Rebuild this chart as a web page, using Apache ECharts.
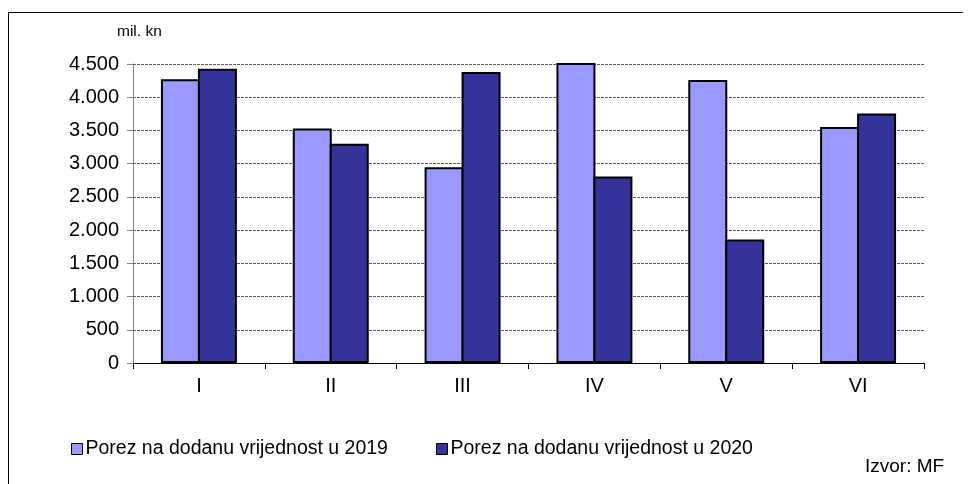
<!DOCTYPE html>
<html><head><meta charset="utf-8">
<script src="https://cdn.jsdelivr.net/npm/echarts@6/dist/echarts.min.js"></script>
<style>html,body{margin:0;padding:0;background:#fff}#c{width:968px;height:484px}</style>
</head><body><div id="c"></div>
<script>
var categories = ['I','II','III','IV','V','VI'];
var vat2019 = [4270, 3530, 2945, 4800, 4260, 3550];
var vat2020 = [4430, 3300, 4380, 2805, 1860, 3755];
var seriesNames = ['Porez na dodanu vrijednost u 2019','Porez na dodanu vrijednost u 2020'];
var yTickStep = 500, yMax = 4500;
var unitLabel = 'mil. kn';
var sourceLabel = 'Izvor: MF';

var FONT = 'Liberation Sans, Arial, sans-serif';
function fmt(v){ return String(v).replace(/\B(?=(\d{3})+(?!\d))/g,'.'); }
var chart = echarts.init(document.getElementById('c'), null, {renderer:'canvas'});
chart.setOption({
  animation:false,
  backgroundColor:'#fff',
  grid:{left:133,right:44,top:64,bottom:121,containLabel:false},
  legend:{
    left:66, top:434, itemWidth:11, itemHeight:11, itemGap:48,
    icon:'rect',
    textStyle:{fontFamily:FONT,fontSize:19.5,color:'#000',padding:[0,0,0,-2]},
    itemStyle:{borderColor:'#000',borderWidth:1},
    data:seriesNames
  },
  graphic:[
    {type:'polyline',shape:{points:[[8.5,490],[8.5,12.5],[963,12.5]]},style:{stroke:'#000',lineWidth:1,fill:null}},
    {type:'text',left:117,top:24,style:{text:unitLabel,font:'15.5px '+FONT,fill:'#000'}},
    {type:'text',left:865,top:457,style:{text:sourceLabel,font:'19px '+FONT,fill:'#000'}}
  ],
  xAxis:{
    type:'category',data:categories,
    axisLine:{lineStyle:{color:'#000',width:1}},
    axisTick:{show:true,length:6,lineStyle:{color:'#000'}},
    axisLabel:{margin:13,fontFamily:FONT,fontSize:20,color:'#000'}
  },
  yAxis:{
    type:'value',min:0,max:yMax,interval:yTickStep,
    axisLine:{show:true,lineStyle:{color:'#808080',width:1}},
    axisTick:{show:true,length:6,lineStyle:{color:'#808080'}},
    axisLabel:{margin:14,fontFamily:FONT,fontSize:20,color:'#000',formatter:fmt},
    splitLine:{show:true,lineStyle:{color:'#606060',type:[3,1],width:1}}
  },
  series:[
    {name:seriesNames[0],type:'bar',data:vat2019,barWidth:39,barGap:'-5.2%',clip:true,
     itemStyle:{color:'#9999FF',borderColor:'#000',borderWidth:2}},
    {name:seriesNames[1],type:'bar',data:vat2020,barWidth:39,barGap:'-5.2%',clip:true,
     itemStyle:{color:'#333399',borderColor:'#000',borderWidth:2}}
  ]
});
</script></body></html>
